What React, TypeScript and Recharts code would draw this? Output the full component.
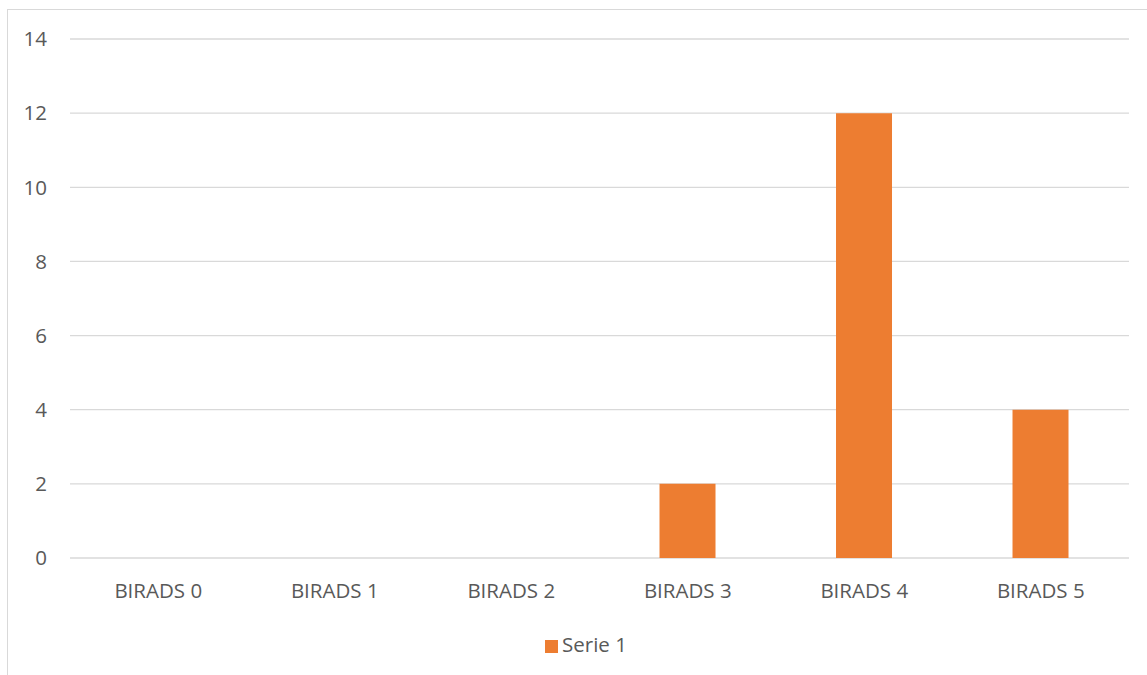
import React from "react";
import { BarChart, Bar, XAxis, YAxis, CartesianGrid, Legend } from "recharts";

const categories = ["BIRADS 0", "BIRADS 1", "BIRADS 2", "BIRADS 3", "BIRADS 4", "BIRADS 5"];
const serie1 = [0, 0, 0, 2, 12, 4];
const yTicks = [0, 2, 4, 6, 8, 10, 12, 14];

const data = categories.map((c, i) => ({ name: c, "Serie 1": serie1[i] }));

const FONT = "'Open Sans', sans-serif";
const TEXT = "#595959";

export default function App() {
  return (
    <div style={{ position: "absolute", left: 0, top: 0, width: 1147, height: 675, overflow: "hidden", background: "#fff", fontFamily: FONT }}>
      <div style={{ position: "absolute", left: 7, top: 9, width: 1200, height: 700, border: "1px solid #d9d9d9", boxSizing: "border-box" }} />
      <div style={{ position: "absolute", left: 0, top: 0 }}>
        <BarChart
          width={1147}
          height={675}
          data={data}
          margin={{ top: 39, right: 18, bottom: 87, left: 0 }}
          barCategoryGap="34%"
        >
          <CartesianGrid vertical={false} stroke="#d9d9d9" strokeWidth={1.3} />
          <XAxis
            dataKey="name"
            height={30}
            axisLine={false}
            tickLine={false}
            tickSize={0}
            tickMargin={25}
            tick={{ fill: TEXT, fontSize: 20.5, fontFamily: FONT }}
            interval={0}
          />
          <YAxis
            width={70}
            domain={[0, 14]}
            ticks={yTicks}
            axisLine={false}
            tickLine={false}
            tickSize={0}
            tickMargin={23}
            tick={{ fill: TEXT, fontSize: 20.5, fontFamily: FONT }}
            interval={0}
          />
          <Legend
            verticalAlign="middle"
            align="center"
            iconType="square"
            iconSize={13}
            wrapperStyle={{ top: 630, left: 545, width: "auto", fontFamily: FONT, fontSize: 20.5 }}
            formatter={(v) => <span style={{ color: TEXT }}>{v}</span>}
          />
          <Bar dataKey="Serie 1" fill="#ed7d31" isAnimationActive={false} />
        </BarChart>
      </div>
    </div>
  );
}
